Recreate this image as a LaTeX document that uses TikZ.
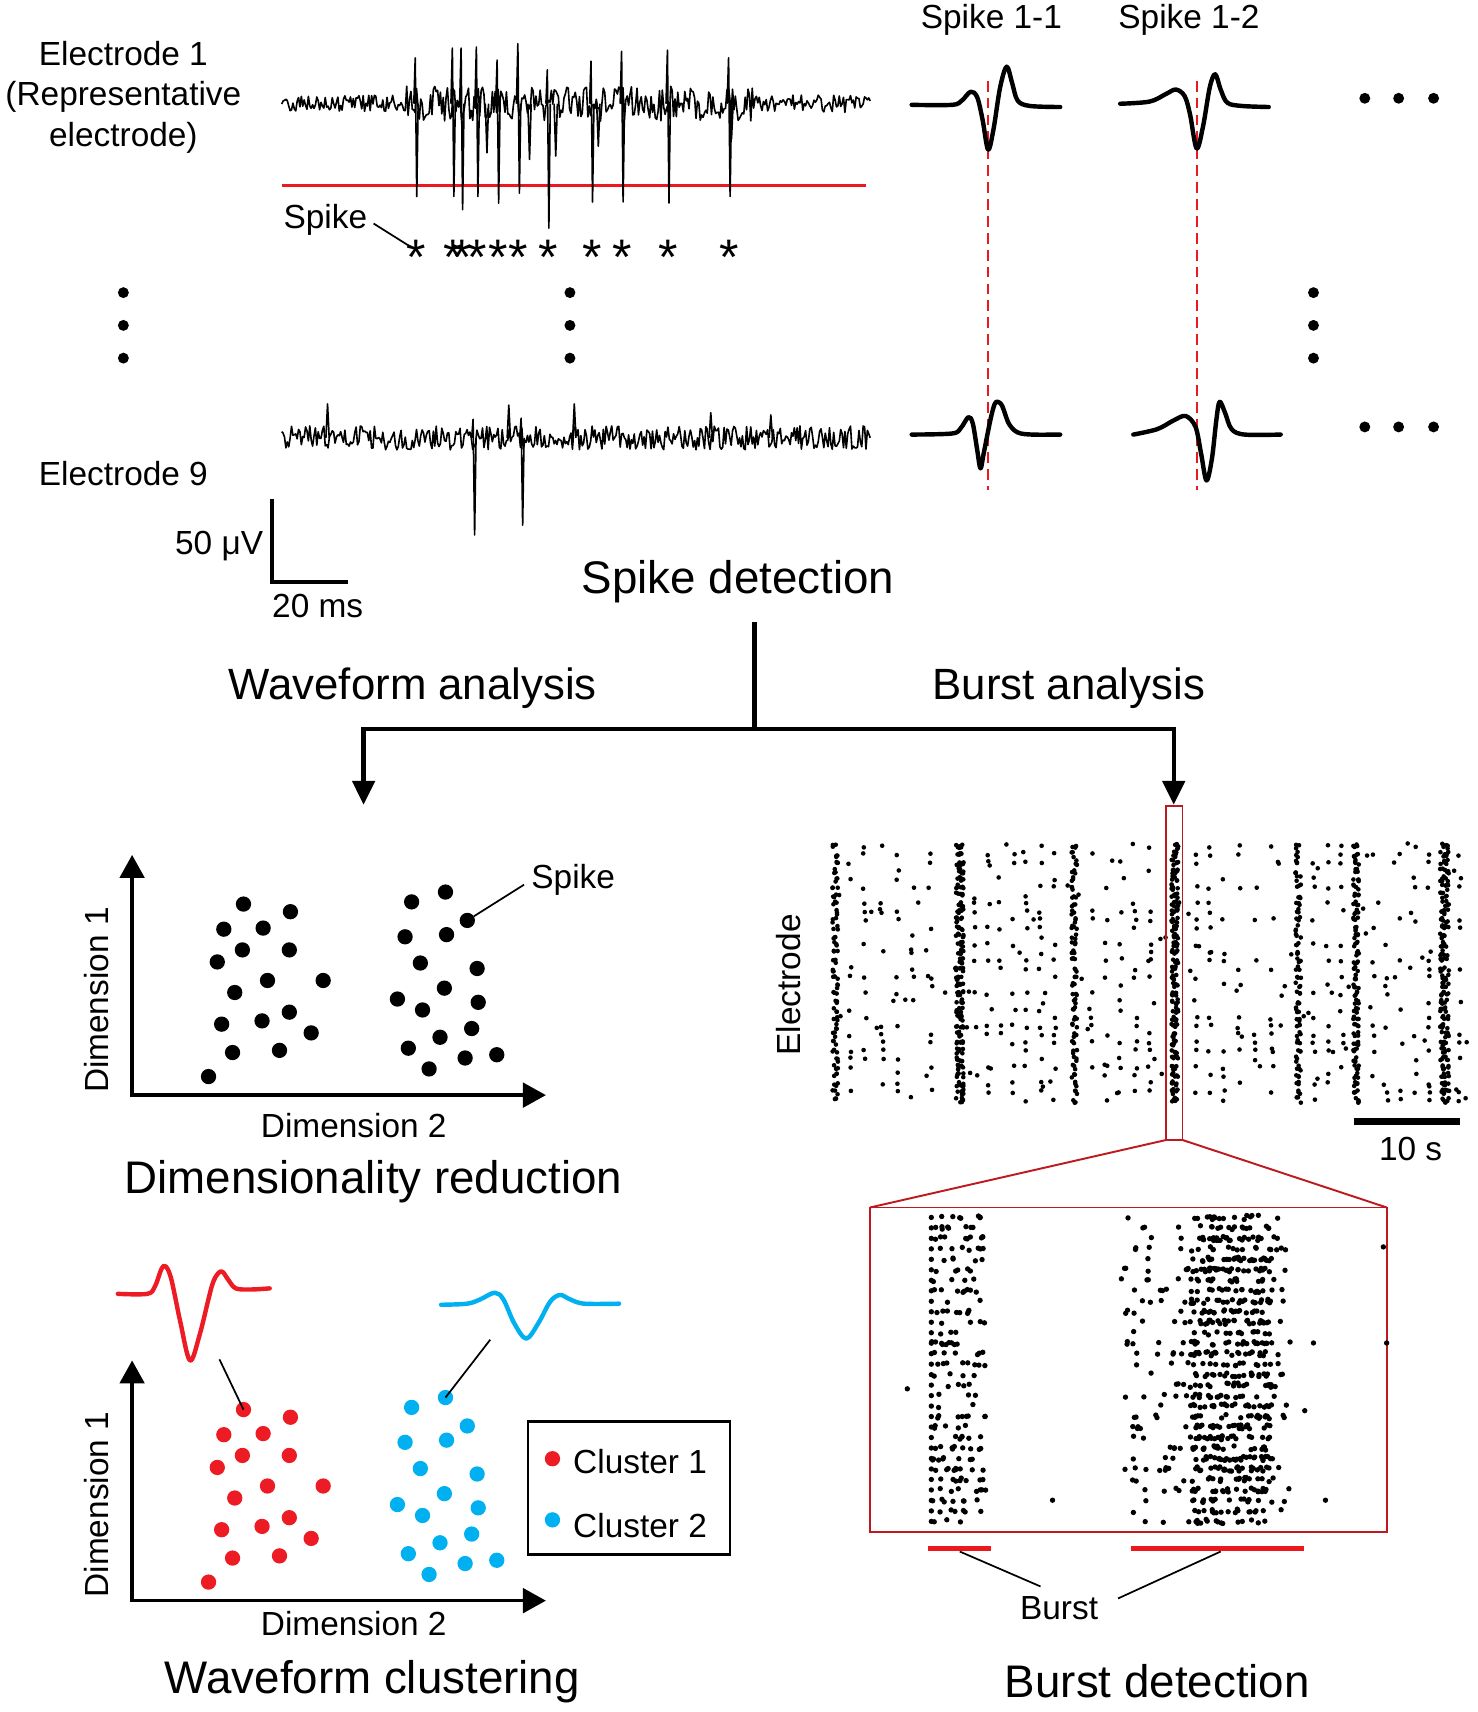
\documentclass[tikz,border=0pt]{standalone}
\usepackage{fontspec}
\setmainfont{Liberation Sans}
\usetikzlibrary{positioning,arrows.meta}

\definecolor{thrred}{RGB}{235,25,30}
\definecolor{zoomred}{RGB}{190,25,30}
\definecolor{cluone}{RGB}{237,28,36}
\definecolor{clutwo}{RGB}{0,176,240}

% dot positions of the two clusters (shared by both scatter plots)
\newcommand{\clusterA}{223/828, 266/835, 205/851, 241/850, 222/870, 265/870, 199/881, 245/898, 296/898, 215/909, 265/927, 203/938, 240/935, 285/946, 213/964, 256/962, 191/986}
\newcommand{\clusterB}{377/826, 408/817, 428/843, 371/858, 409/856, 385/882, 437/887, 407/905, 364/915, 387/925, 438/918, 432/942, 403/950, 374/960, 426/969, 455/966, 393/979}
% firing times shared by the electrodes of the raster
\newcommand{\eventx}{778, 792, 808, 822, 836, 852, 893, 905, 916, 928, 940, 953, 966, 1000, 1013, 1026, 1040, 1053, 1096, 1108, 1121, 1135, 1150, 1165, 1203, 1216, 1229, 1258, 1270, 1283, 1296, 1309, 1337}

\begin{document}
\begin{tikzpicture}[
  x=0.01cm, y=-0.01cm,
  every node/.style={inner sep=0pt, outer sep=0pt},
  lbl/.style={font=\fontsize{8.7}{10.5}\selectfont, align=center},
  head/.style={font=\fontsize{11.9}{14}\selectfont},
  branch/.style={font=\fontsize{11.4}{13.5}\selectfont},
  spkmark/.style={font=\fontsize{13}{15}\selectfont, anchor=base},
  trace/.style={line width=0.42pt, line join=round},
  wave/.style={line width=1.15pt, line join=round, line cap=round},
  thresh/.style={thrred, line width=0.75pt},
  marker/.style={thrred, line width=0.6pt, dash pattern=on 2.8pt off 1.6pt},
  axis/.style={line width=0.9pt, {Triangle[width=6.4pt, length=6pt]}-{Triangle[width=6.4pt, length=6pt]}},
  flow/.style={line width=1.1pt},
  flowarrow/.style={flow, -{Triangle[width=5.8pt, length=6.2pt]}},
  lead/.style={line width=0.45pt},
  scalebar/.style={line width=1.1pt},
  sdot/.style={circle, minimum size=0.14cm},
  burstbar/.style={thrred, line width=1.4pt}
]
\fill[white] (0,0) rectangle (1353,1568);
\useasboundingbox (0,0) rectangle (1353,1568);

% Electrode 1
\node[lbl] (e1) at (113,89) {Electrode 1\\(Representative\\electrode)};
\pgfmathsetseed{11}
\draw[trace] plot[domain=258:797, samples=420] (\x, {95 + (8 + 8*(\x>372)*(\x<690))*rand});
\foreach \sx/\sy in {446/140, 485/146, 509/143, 548/134, 670/127}
  \draw[trace] (\sx-1.5,95) -- (\sx,\sy) -- (\sx+1.5,95);
\draw[thresh] (258,170) -- (793,170);
\foreach \sx/\st/\sb [count=\i] in {381/53/180, 415/44/180, 423/44/192, 437/43/180, 456/55/186, 475/40/177, 502/64/209, 542/56/185, 570/47/185, 612/46/186, 668/53/180}{
  \draw[trace] (\sx-2,95) -- (\sx-0.7,\st) -- (\sx+0.7,\sb) -- (\sx+2,95);
  \node[spkmark] (st\i) at (\sx,251) {*};
}
\node[lbl] (spk1) at (298,201) {Spike};
\coordinate (spkend) at (376,226);
\draw[lead, shorten <=0.07cm] (spk1.east) -- (spkend);

% vertical ellipsis
\foreach \ex in {113,522,1203}
  \foreach \ey in {268,298,328}
    \fill (\ex,\ey) circle (0.05cm);

% Electrode 9
\node[lbl] (e9) at (113,434) {Electrode 9};
\pgfmathsetseed{23}
\draw[trace] plot[domain=258:797, samples=420] (\x, {401 + 11*rand});
\foreach \sx/\sy in {300/370, 466/371, 526/370, 651/378, 706/380}
  \draw[trace] (\sx-1.5,401) -- (\sx,\sy) -- (\sx+1.5,401);
\foreach \sx/\st/\sb in {434/384/490, 478/383/481}
  \draw[trace] (\sx-2,401) -- (\sx-0.7,\st) -- (\sx+0.7,\sb) -- (\sx+2,401);

% scale bar
\draw[scalebar] (249,457) -- (249,533) -- (319,533);
\node[lbl, anchor=east] (uv) at (241,500) {50 μV};
\node[lbl] (ms) at (291,555) {20 ms};

% Spike waveforms
\node[lbl] (s11) at (908,18) {Spike 1-1};
\node[lbl] (s12) at (1089,18) {Spike 1-2};
\draw[marker] (905,74) -- (905,449);
\draw[marker] (1096,74) -- (1096,449);
\draw[wave] plot[smooth, tension=0.55] coordinates {(835,96) (872,96) (881,92) (889,84) (895,89) (900,110) (905,137) (910,118) (916,80) (922,61) (927,76) (932,92) (943,97) (971,98)};
\draw[wave] plot[smooth, tension=0.55] coordinates {(1026,95) (1053,93) (1068,86) (1077,82) (1085,88) (1090,105) (1096,136) (1102,115) (1108,80) (1113,68) (1118,82) (1124,94) (1137,97) (1162,98)};
\draw[wave] plot[smooth, tension=0.55] coordinates {(835,398) (872,397) (880,392) (887,382) (891,388) (895,412) (898,429) (901,415) (907,385) (911,370) (914,368) (918,372) (924,388) (932,396) (945,398) (971,398)};
\draw[wave] plot[smooth, tension=0.55] coordinates {(1038,398) (1060,393) (1075,385) (1086,381) (1095,391) (1100,415) (1105,440) (1110,420) (1114,385) (1117,368) (1122,378) (1128,393) (1140,398) (1173,398)};
\foreach \hx in {1250,1281,1313}{
  \fill (\hx,90) circle (0.05cm);
  \fill (\hx,391) circle (0.05cm);
}

% Spike detection and branches
\node[head] (sd) at (676,533) {Spike detection};
\coordinate (sdout) at (691,570);
\coordinate (split) at (691,668);
\coordinate (wfin) at (333,737);
\coordinate (bin) at (1075,737);
\draw[flow] (sdout) -- (split);
\draw[flowarrow] (split) -| (wfin);
\draw[flowarrow] (split) -| (bin);
\node[branch] (wa) at (378,630) {Waveform analysis};
\node[branch] (ba) at (979,630) {Burst analysis};

% Dimensionality reduction
\coordinate (o1) at (121,1003);
\coordinate (o1y) at (121,783);
\coordinate (o1x) at (500,1003);
\draw[axis] (o1y) -- (o1) -- (o1x);
\foreach \px/\py in \clusterA \fill (\px,\py) circle (0.07cm);
\foreach \px/\py in \clusterB \fill (\px,\py) circle (0.07cm);
\node[sdot] (sp1) at (428,843) {};
\node[lbl] (spk2) at (525,806) {Spike};
\draw[lead, shorten <=0.08cm] (spk2.west) -- (sp1);
\node[lbl, rotate=90] (d1a) at (88,916) {Dimension 1};
\node[lbl] (d2a) at (324,1031) {Dimension 2};
\node[head] (dr) at (342,1082) {Dimensionality reduction};

% Waveform clustering
\coordinate (o2) at (121,1466);
\coordinate (o2y) at (121,1246);
\coordinate (o2x) at (500,1466);
\draw[axis] (o2y) -- (o2) -- (o2x);
\begin{scope}[shift={(0,463)}]
  \foreach \px/\py in \clusterA \fill[cluone] (\px,\py) circle (0.07cm);
  \foreach \px/\py in \clusterB \fill[clutwo] (\px,\py) circle (0.07cm);
\end{scope}
\draw[wave, cluone] plot[smooth, tension=0.55] coordinates {(108,1185) (135,1185) (142,1178) (148,1162) (152,1160) (157,1172) (165,1210) (174,1246) (183,1222) (194,1178) (200,1166) (204,1165) (209,1172) (216,1180) (230,1181) (247,1180)};
\draw[wave, clutwo] plot[smooth, tension=0.55] coordinates {(404,1195) (428,1194) (440,1190) (453,1184) (461,1190) (471,1212) (482,1226) (493,1212) (504,1192) (513,1186) (522,1190) (535,1194) (567,1194)};
\node[sdot] (r1) at (223,1291) {};
\node[sdot] (b1) at (408,1280) {};
\coordinate (redw) at (201,1245);
\coordinate (bluew) at (449,1227);
\draw[lead] (redw) -- (r1.center);
\draw[lead] (bluew) -- (b1.center);
\node[draw, line width=0.7pt, minimum width=1.85cm, minimum height=1.22cm] (legend) at (576,1363) {};
\fill[cluone] (506,1336) circle (0.07cm);
\fill[clutwo] (506,1392) circle (0.07cm);
\node[lbl, anchor=west] (c1) at (525,1339) {Cluster 1};
\node[lbl, anchor=west] (c2) at (525,1397) {Cluster 2};
\node[lbl, rotate=90] (d1b) at (88,1378) {Dimension 1};
\node[lbl] (d2b) at (324,1487) {Dimension 2};
\node[head] (wc) at (341,1540) {Waveform clustering};

% Raster plot
\pgfmathsetseed{5}
\foreach \r in {0,...,31}{
  \pgfmathsetmacro{\ry}{775+7.5*\r}
  \pgfmathsetmacro{\rp}{0.08+0.45*rnd}
  \foreach \bc/\bw/\bn in {765/5/3, 879/7/6, 984/5/3, 1076/6/6, 1189/5/3, 1242/5/4, 1323/8/6}{
    \foreach \k in {1,...,\bn}
      \fill (\bc-\bw/2+\bw*rnd, \ry+2.5*rand) circle (0.6pt);
  }
  \foreach \ex in \eventx {
    \pgfmathtruncatemacro{\hit}{rnd<\rp}
    \ifnum\hit=1 \fill (\ex+1.5*rand, \ry+1.5*rand) circle (0.6pt); \fi
  }
  \pgfmathrandominteger{\nb}{0}{5}
  \foreach \k in {0,...,\nb}
    \fill (762+583*rnd, \ry+3*rand) circle (0.6pt);
}
\node[lbl, rotate=90] (elec) at (722,902) {Electrode};
\draw[line width=1.7pt] (1240,1027) -- (1337,1027);
\node[lbl] (ten) at (1292,1052) {10 s};

% Zoomed burst window
\node[draw=zoomred, line width=0.5pt, minimum width=0.15cm, minimum height=3.06cm] (zwin) at (1075.5,891) {};
\node[draw=zoomred, line width=0.5pt, minimum width=4.73cm, minimum height=2.97cm] (zbox) at (1033.5,1254.5) {};
\draw[zoomred, line width=0.5pt] (zwin.south west) -- (zbox.north west);
\draw[zoomred, line width=0.5pt] (zwin.south east) -- (zbox.north east);
\pgfmathsetseed{9}
\foreach \r in {0,...,29}{
  \pgfmathsetmacro{\ry}{1115+9.6*\r}
  \fill (853,\ry) circle (0.7pt);
  \pgfmathrandominteger{\na}{2}{9}
  \foreach \k in {1,...,\na}
    \fill (853+50*rnd, \ry+1.5*rand) circle (0.7pt);
  \pgfmathrandominteger{\nc}{4}{12}
  \foreach \k in {1,...,\nc}
    \fill (1027+155*rnd, \ry+1.5*rand) circle (0.7pt);
  \pgfmathrandominteger{\nd}{8}{26}
  \foreach \k in {1,...,\nd}
    \fill (1090+75*rnd, \ry+2*rand) circle (0.7pt);
}
\foreach \ox/\oy in {831/1272, 964/1374, 1214/1374, 1267/1142, 1203/1230, 1270/1230, 1195/1292}
  \fill (\ox,\oy) circle (0.7pt);

% Bursts
\coordinate (bar1) at (879,1421);
\coordinate (bar2) at (1118,1421);
\draw[burstbar] (850,1418) -- (908,1418);
\draw[burstbar] (1036,1418) -- (1194,1418);
\node[lbl] (burst) at (970,1473) {Burst};
\coordinate (bl1) at (953,1453);
\coordinate (bl2) at (1024,1464);
\draw[lead] (bar1) -- (bl1);
\draw[lead] (bar2) -- (bl2);
\node[head] (bd) at (1060,1540) {Burst detection};

\end{tikzpicture}
\end{document}
